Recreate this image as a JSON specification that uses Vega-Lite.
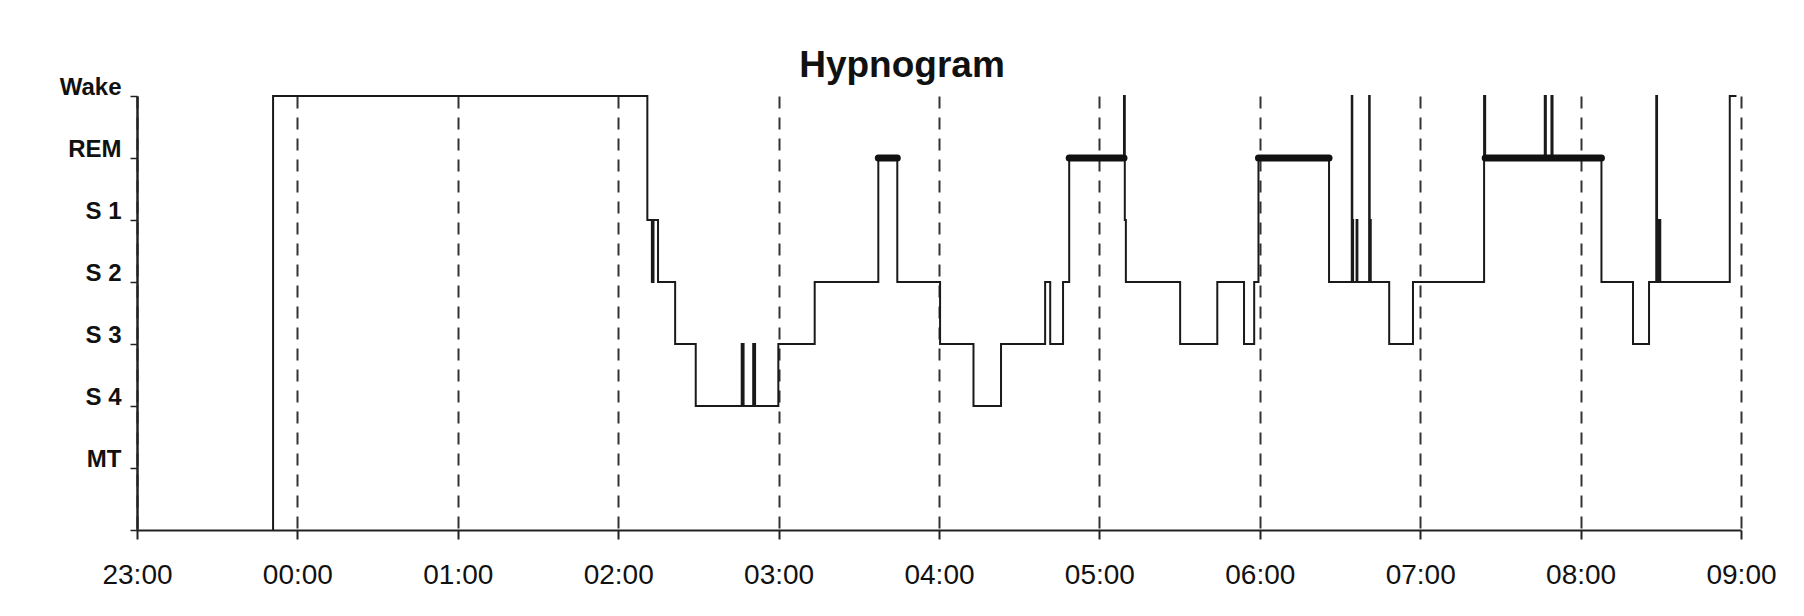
{
  "$schema": "https://vega.github.io/schema/vega-lite/v6.json",
  "width": 1604,
  "height": 434,
  "autosize": {"type": "none"},
  "padding": {"left": 137, "top": 96, "right": 63, "bottom": 86},
  "background": "white",
  "title": {
    "text": "Hypnogram",
    "font": "Liberation Sans",
    "fontSize": 37,
    "fontWeight": "bold",
    "color": "#111",
    "anchor": "middle",
    "dx": -37,
    "dy": 14
  },
  "datasets": {
    "hyp": [
      {"time": "2000-01-01T23:50:54", "stage": 0},
      {"time": "2000-01-01T23:50:54", "stage": 7},
      {"time": "2000-01-02T02:10:54", "stage": 5},
      {"time": "2000-01-02T02:12:36", "stage": 4},
      {"time": "2000-01-02T02:13:12", "stage": 5},
      {"time": "2000-01-02T02:14:54", "stage": 4},
      {"time": "2000-01-02T02:21:18", "stage": 3},
      {"time": "2000-01-02T02:29:00", "stage": 2},
      {"time": "2000-01-02T02:46:12", "stage": 3},
      {"time": "2000-01-02T02:46:54", "stage": 2},
      {"time": "2000-01-02T02:50:30", "stage": 3},
      {"time": "2000-01-02T02:51:12", "stage": 2},
      {"time": "2000-01-02T02:59:54", "stage": 3},
      {"time": "2000-01-02T03:13:30", "stage": 4},
      {"time": "2000-01-02T03:37:18", "stage": 6},
      {"time": "2000-01-02T03:44:24", "stage": 4},
      {"time": "2000-01-02T04:00:24", "stage": 3},
      {"time": "2000-01-02T04:12:54", "stage": 2},
      {"time": "2000-01-02T04:23:12", "stage": 3},
      {"time": "2000-01-02T04:39:42", "stage": 4},
      {"time": "2000-01-02T04:41:36", "stage": 3},
      {"time": "2000-01-02T04:46:24", "stage": 4},
      {"time": "2000-01-02T04:48:42", "stage": 6},
      {"time": "2000-01-02T05:09:12", "stage": 7},
      {"time": "2000-01-02T05:09:30", "stage": 5},
      {"time": "2000-01-02T05:09:54", "stage": 4},
      {"time": "2000-01-02T05:30:12", "stage": 3},
      {"time": "2000-01-02T05:44:06", "stage": 4},
      {"time": "2000-01-02T05:54:06", "stage": 3},
      {"time": "2000-01-02T05:57:54", "stage": 4},
      {"time": "2000-01-02T05:59:30", "stage": 6},
      {"time": "2000-01-02T06:25:54", "stage": 4},
      {"time": "2000-01-02T06:34:24", "stage": 7},
      {"time": "2000-01-02T06:34:36", "stage": 5},
      {"time": "2000-01-02T06:34:54", "stage": 4},
      {"time": "2000-01-02T06:36:12", "stage": 5},
      {"time": "2000-01-02T06:36:30", "stage": 4},
      {"time": "2000-01-02T06:40:54", "stage": 7},
      {"time": "2000-01-02T06:41:06", "stage": 5},
      {"time": "2000-01-02T06:41:30", "stage": 4},
      {"time": "2000-01-02T06:48:24", "stage": 3},
      {"time": "2000-01-02T06:57:18", "stage": 4},
      {"time": "2000-01-02T07:23:54", "stage": 7},
      {"time": "2000-01-02T07:24:18", "stage": 6},
      {"time": "2000-01-02T07:46:36", "stage": 7},
      {"time": "2000-01-02T07:47:00", "stage": 6},
      {"time": "2000-01-02T07:49:06", "stage": 7},
      {"time": "2000-01-02T07:49:30", "stage": 6},
      {"time": "2000-01-02T08:07:48", "stage": 4},
      {"time": "2000-01-02T08:19:36", "stage": 3},
      {"time": "2000-01-02T08:25:36", "stage": 4},
      {"time": "2000-01-02T08:28:18", "stage": 7},
      {"time": "2000-01-02T08:28:36", "stage": 5},
      {"time": "2000-01-02T08:28:54", "stage": 4},
      {"time": "2000-01-02T08:29:30", "stage": 5},
      {"time": "2000-01-02T08:29:48", "stage": 4},
      {"time": "2000-01-02T08:55:48", "stage": 7},
      {"time": "2000-01-02T08:58:18", "stage": 7}
    ],
    "rem": [
      {"start": "2000-01-02T03:37:18", "end": "2000-01-02T03:44:24", "stage": 6},
      {"start": "2000-01-02T04:48:42", "end": "2000-01-02T05:09:12", "stage": 6},
      {"start": "2000-01-02T05:59:30", "end": "2000-01-02T06:25:54", "stage": 6},
      {"start": "2000-01-02T07:24:18", "end": "2000-01-02T08:07:48", "stage": 6}
    ]
  },
  "layer": [
    {
      "data": {"name": "hyp"},
      "mark": {"type": "line", "interpolate": "step-after", "color": "#1a1a1a", "strokeWidth": 2},
      "encoding": {
        "x": {
          "field": "time",
          "type": "temporal",
          "scale": {
            "domain": [
              {"year": 2000, "month": 1, "date": 1, "hours": 23, "minutes": 0},
              {"year": 2000, "month": 1, "date": 2, "hours": 9, "minutes": 0}
            ],
            "nice": false
          },
          "axis": {
            "title": null,
            "format": "%H:%M",
            "values": [
              {"year": 2000, "month": 1, "date": 1, "hours": 23},
              {"year": 2000, "month": 1, "date": 2, "hours": 0},
              {"year": 2000, "month": 1, "date": 2, "hours": 1},
              {"year": 2000, "month": 1, "date": 2, "hours": 2},
              {"year": 2000, "month": 1, "date": 2, "hours": 3},
              {"year": 2000, "month": 1, "date": 2, "hours": 4},
              {"year": 2000, "month": 1, "date": 2, "hours": 5},
              {"year": 2000, "month": 1, "date": 2, "hours": 6},
              {"year": 2000, "month": 1, "date": 2, "hours": 7},
              {"year": 2000, "month": 1, "date": 2, "hours": 8},
              {"year": 2000, "month": 1, "date": 2, "hours": 9}
            ],
            "grid": true,
            "gridDash": [12, 9],
            "gridColor": "#333",
            "gridWidth": 2,
            "domainColor": "#222",
            "domainWidth": 2,
            "tickColor": "#222",
            "tickWidth": 2,
            "tickSize": 9,
            "labelFont": "Liberation Sans",
            "labelFontSize": 28,
            "labelColor": "#111",
            "labelPadding": 22,
            "labelFlush": false,
            "labelOverlap": false
          }
        },
        "y": {
          "field": "stage",
          "type": "quantitative",
          "scale": {"domain": [0, 7], "nice": false, "zero": false},
          "axis": {
            "title": null,
            "values": [0, 1, 2, 3, 4, 5, 6, 7],
            "labelExpr": "datum.value == 7 ? 'Wake' : datum.value == 6 ? 'REM' : datum.value == 5 ? 'S 1' : datum.value == 4 ? 'S 2' : datum.value == 3 ? 'S 3' : datum.value == 2 ? 'S 4' : datum.value == 1 ? 'MT' : ''",
            "grid": false,
            "labelFont": "Liberation Sans",
            "labelFontSize": 24,
            "labelFontWeight": "bold",
            "labelColor": "#111",
            "labelPadding": 9,
            "labelOffset": -9,
            "tickSize": 7,
            "tickColor": "#222",
            "tickWidth": 1.5,
            "domainColor": "#222",
            "domainWidth": 2.5
          }
        }
      }
    },
    {
      "data": {"name": "rem"},
      "mark": {"type": "rule", "color": "#111", "strokeWidth": 7, "strokeCap": "round"},
      "encoding": {
        "x": {"field": "start", "type": "temporal"},
        "x2": {"field": "end"},
        "y": {"field": "stage", "type": "quantitative"}
      }
    }
  ],
  "config": {"view": {"stroke": null}}
}
